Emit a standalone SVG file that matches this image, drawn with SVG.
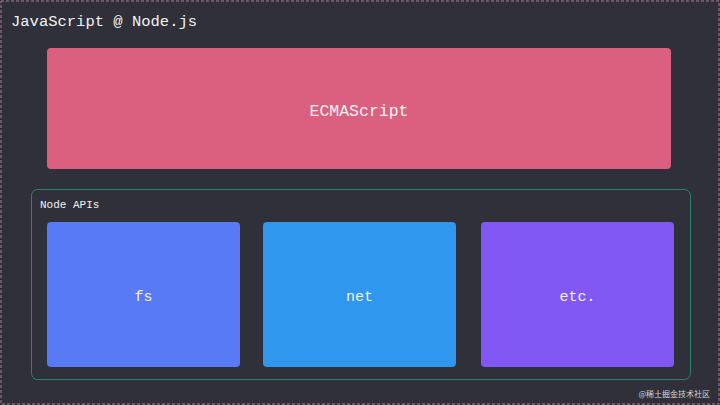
<svg xmlns="http://www.w3.org/2000/svg" width="720" height="405" viewBox="0 0 720 405">
<style>
.t{font-family:"Liberation Mono","DejaVu Sans Mono",monospace;fill:#f2f2f2}
.box{rx:4}
</style>
<rect x="0" y="0" width="720" height="405" fill="#2f3039"/>
<rect x="1" y="1" width="718" height="403" fill="none" stroke="#b07a96" stroke-width="1" stroke-dasharray="3,2"/>
<text class="t" x="11" y="26" font-size="15.5">JavaScript @ Node.js</text>
<g id="ecmascript">
<rect class="box" x="47" y="48" width="624" height="121" fill="#db6080"/>
<text class="t" x="359" y="116" font-size="16.5" text-anchor="middle">ECMAScript</text>
</g>
<g id="node-apis">
<rect x="31.5" y="189.5" width="659" height="190" rx="6" fill="none" stroke="#2e8074" stroke-width="1"/>
<text class="t" x="40" y="208" font-size="11">Node APIs</text>
</g>
<g id="fs">
<rect class="box" x="47" y="222" width="193" height="145" fill="#587bf5"/>
<text class="t" x="143.5" y="301" font-size="15" text-anchor="middle">fs</text>
</g>
<g id="net">
<rect class="box" x="263" y="222" width="193" height="145" fill="#3097ee"/>
<text class="t" x="359.5" y="301" font-size="15" text-anchor="middle">net</text>
</g>
<g id="etc">
<rect class="box" x="481" y="222" width="193" height="145" fill="#8258f5"/>
<text class="t" x="577.5" y="301" font-size="15" text-anchor="middle">etc.</text>
</g>
<g id="connectors"></g>
<text x="710" y="397" font-size="8" text-anchor="end" fill="#d8d8d8" font-family="'Noto Sans CJK SC',sans-serif">@稀土掘金技术社区</text>
</svg>
